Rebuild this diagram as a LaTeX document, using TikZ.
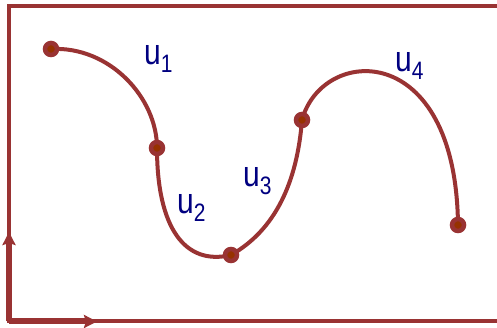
\documentclass[tikz,border=0pt]{standalone}
\usepackage{fontspec}
\setmainfont{Liberation Sans}
\usetikzlibrary{arrows.meta}
\definecolor{wine}{RGB}{153,51,51}
\definecolor{rust}{RGB}{150,50,0}
\definecolor{ink}{RGB}{0,0,128}
\tikzset{
  knot/.style={circle, fill=rust, draw=wine, line width=4.5pt, minimum size=12pt, inner sep=0pt},
  lbl/.style={text=ink, font=\fontsize{30}{32}\selectfont, inner sep=0pt, anchor=base west, yscale=1.2, transform shape},
}
\begin{document}
\begin{tikzpicture}[x=1pt, y=1pt]
	\useasboundingbox (0,0) rectangle (497,328);
	% frame, open on the right
	\draw[wine, line width=4pt] (497,321.5) -- (9,321.5) -- (9,6.5) -- (497,6.5);
	\coordinate (o) at (9,6.5);
	\coordinate (yt) at (9,96);
	\coordinate (xt) at (97,6.5);
	\draw[wine, line width=6pt, -{Stealth[length=13pt, width=13pt, inset=2pt]}] (o) -- (yt);
	\draw[wine, line width=6pt, -{Stealth[length=13pt, width=13pt, inset=2pt]}] (o) -- (xt);

	% the spline and its knots
	\coordinate (k1) at (51,279);
	\coordinate (k2) at (157,180);
	\coordinate (k3) at (231,73);
	\coordinate (k4) at (302,208);
	\coordinate (k5) at (458,103);
	\draw[wine, line width=4pt] (k1) .. controls (110,282) and (157,230) .. (k2)
		.. controls (157,100) and (185,62) .. (k3)
		.. controls (275,98) and (297,145) .. (k4)
		.. controls (322,282) and (456,290) .. (k5);
	\foreach \k in {1,...,5} \node[knot] (p\k) at (k\k) {};

	\node[lbl] (u1) at (144,263) {u\textsubscript{1}};
	\node[lbl] (u2) at (177,114) {u\textsubscript{2}};
	\node[lbl] (u3) at (243,141) {u\textsubscript{3}};
	\node[lbl] (u4) at (395,256) {u\textsubscript{4}};
\end{tikzpicture}
\end{document}
